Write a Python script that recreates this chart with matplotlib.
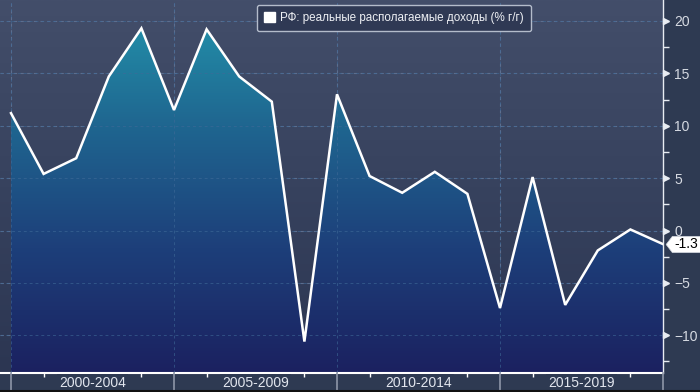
import numpy as np
import matplotlib
matplotlib.use("Agg")
import matplotlib.pyplot as plt
from matplotlib.colors import LinearSegmentedColormap
from matplotlib.patches import Patch
from matplotlib.path import Path
from matplotlib.transforms import blended_transform_factory

plt.rcParams["font.family"] = ["Liberation Sans", "DejaVu Sans"]

# Real disposable income, % y/y
years = list(range(2000, 2021))
values = [11.2, 5.4, 6.9, 14.7, 19.3, 11.5, 19.2, 14.7, 12.3, -10.6, 13.0,
          5.2, 3.6, 5.6, 3.5, -7.4, 5.1, -7.1, -1.9, 0.1, -1.3]
group_labels = ["2000-2004", "2005-2009", "2010-2014", "2015-2019"]
y_ticks = [-10, -5, 0, 5, 10, 15, 20]
legend_label = "РФ: реальные располагаемые доходы (% г/г)"

ymin, ymax = -13.6, 22.0
x = np.arange(len(years))

fig = plt.figure(figsize=(7, 3.92), dpi=100, facecolor="#2e3a52")
ax = fig.add_axes([0, 19 / 392, 663 / 700, 373 / 392])
ax.set_facecolor("#2e3a52")

# background gradient of the plot area
bg_cmap = LinearSegmentedColormap.from_list("bg", ["#2c3652", "#37425e", "#434e6a"])
grad = np.linspace(0, 1, 256).reshape(-1, 1)
ax.imshow(grad, extent=[0, 1, 0, 1], transform=ax.transAxes, aspect="auto",
          cmap=bg_cmap, origin="lower", zorder=0)

# grid
for yt in y_ticks:
    ax.axhline(yt, color="#5d6e8e", lw=0.8, ls=(0, (3, 3)), zorder=1)
for xs in x[::5]:
    ax.axvline(xs, color="#5d6e8e", lw=0.8, ls=(0, (3, 3)), zorder=1)

# gradient filled area
poly = ax.fill_between(x, values, ymin, color="none", lw=0)
fill_cmap = LinearSegmentedColormap.from_list(
    "fill", ["#1b2160", "#1d3f7a", "#1f6690", "#2396ad"])
im = ax.imshow(grad, extent=[x[0], x[-1], ymin, ymax], aspect="auto",
               cmap=fill_cmap, origin="lower", zorder=2)
im.set_clip_path(poly.get_paths()[0], transform=ax.transData)
# keep grid visible faintly over the fill
for yt in y_ticks:
    ax.axhline(yt, color="#3f6a98", lw=0.7, ls=(0, (3, 3)), alpha=0.6, zorder=3)
for xs in x[::5]:
    ax.axvline(xs, color="#3f6a98", lw=0.7, ls=(0, (3, 3)), alpha=0.6, zorder=3)

ax.plot(x, values, color="white", lw=1.8, zorder=4, solid_joinstyle="miter")

ax.set_xlim(-11 / 32.6, x[-1])
ax.set_ylim(ymin, ymax)

# spines
for s in ["top", "left"]:
    ax.spines[s].set_visible(False)
ax.spines["bottom"].set_color("white")
ax.spines["bottom"].set_linewidth(1.5)
ax.spines["right"].set_color("#e8ecf2")
ax.spines["right"].set_linewidth(1.0)

# y axis on the right
ax.yaxis.tick_right()
ax.set_yticks(y_ticks)
ax.set_yticks(np.arange(-12.5, 20, 5), minor=True)
ax.tick_params(axis="y", which="major", length=0, pad=8, labelsize=10,
               labelcolor="#d6dae2")
ax.tick_params(axis="y", which="minor", length=4, width=1, color="#e8ecf2",
               direction="out")
trans_y = blended_transform_factory(ax.transAxes, ax.transData)
ax.plot([1.0045] * len(y_ticks), y_ticks, ls="none", marker=">", ms=5,
        color="#e8ecf2", transform=trans_y, clip_on=False, zorder=5)

# x axis: minor ticks for each year, group labels and separators
ax.set_xticks([])
ax.set_xticks([xi for xi in x if xi % 5 != 0], minor=True)
ax.tick_params(axis="x", which="minor", length=3, width=1, color="white",
               direction="out", labelbottom=False)
trans_x = blended_transform_factory(ax.transData, ax.transAxes)
for xs in x[::5]:
    ax.plot([xs, xs], [0, -19 / 373], color="#8d96a8", lw=1.2,
            transform=trans_x, clip_on=False, zorder=5)
for i, lab in enumerate(group_labels):
    ax.text(x[i * 5] + 2.5, -10 / 373, lab, transform=trans_x, ha="center",
            va="center", fontsize=10, color="#e2e6ee", zorder=6,
            bbox=dict(boxstyle="square,pad=0.15", fc="#2e3a52", ec="none"))

# last value tag (drawn over the "0" label like the original)
tag = Path([(-1, 0), (-0.64, 0.47), (1, 0.47), (1, -0.47), (-0.64, -0.47), (-1, 0)],
           [Path.MOVETO] + [Path.LINETO] * 4 + [Path.CLOSEPOLY])
ax.plot([1 + 20 / 663], [values[-1]], marker=tag, ms=25, color="white",
        mec="#cfd3da", mew=0.5, transform=trans_y, clip_on=False, zorder=6)
ax.text(1 + 23 / 663, values[-1], f"{values[-1]:.1f}", transform=trans_y,
        ha="center", va="center", fontsize=10, color="black", zorder=7)

# legend
leg = ax.legend(handles=[Patch(facecolor="white", edgecolor="white")],
                labels=[legend_label], loc="upper center",
                bbox_to_anchor=(394 / 663, 0.987), borderaxespad=0,
                frameon=True, fancybox=True,
                fontsize=8.4, labelcolor="#eef0f4", handlelength=0.9,
                handleheight=0.9, handletextpad=0.5, borderpad=0.6)
leg.get_frame().set_facecolor("#2f3954")
leg.get_frame().set_edgecolor("#b4bccb")
leg.get_frame().set_alpha(1)
leg.set_zorder(8)

# thin dark line at the very bottom
fig.add_artist(plt.Line2D([0, 1], [0.002, 0.002], color="#111111", lw=1.5,
                          transform=fig.transFigure))

fig.savefig("out.png", dpi=100, facecolor=fig.get_facecolor())
